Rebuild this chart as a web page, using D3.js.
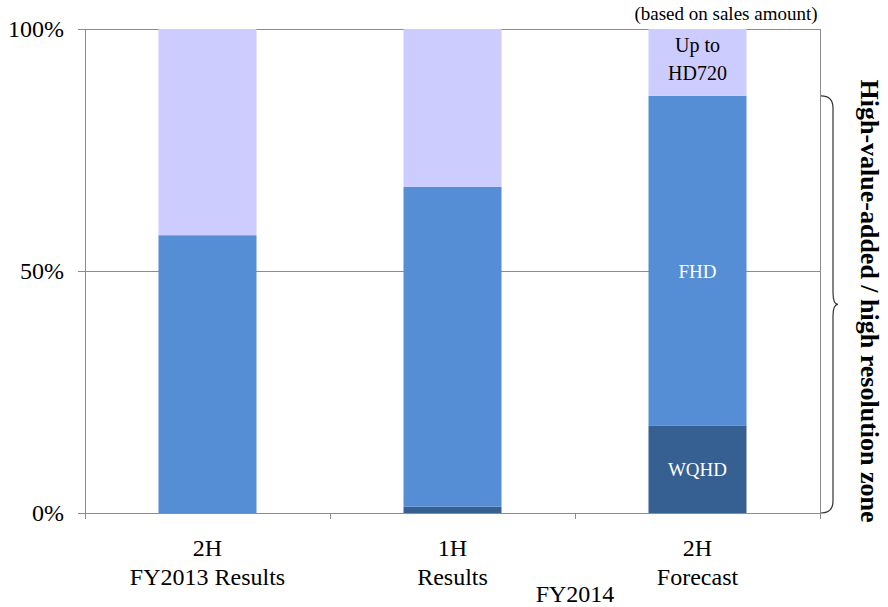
<!DOCTYPE html>
<html><head><meta charset="utf-8">
<script src="https://cdn.jsdelivr.net/npm/d3@7"></script>
<style>body{margin:0;background:#fff}svg{display:block}text{font-family:"Liberation Serif","Times New Roman",Times,serif}</style>
</head><body><svg id="c" width="888" height="607"></svg>
<script>
const categories = ["c1","c2","c3"];
const labelLine1 = ["2H","1H","2H"];
const labelLine2 = ["FY2013 Results","Results","Forecast"];
const series = ["WQHD","FHD","Up to HD720"];
const wqhd = [0, 1.3, 18.0];
const fhd = [57.4, 66.1, 68.2];
const hd720 = [42.6, 32.6, 13.8];
const yTicks = [0, 50, 100];
const colors = ["#366092","#558ED5","#CCCCFF"];

const svg = d3.select("#c");
const L = 85, R = 820, T = 29, B = 513;
const x = d3.scaleBand().domain(categories).range([L, R]).paddingInner(0.6).paddingOuter(0.3);
const y = d3.scaleLinear().domain([0,100]).range([B, T]);

const rows = categories.map((c,i)=>({cat:c, WQHD:wqhd[i], FHD:fhd[i], "Up to HD720":hd720[i]}));
const stacked = d3.stack().keys(series)(rows);

// gridlines
svg.append("g").selectAll("line").data(yTicks).join("line")
  .attr("x1", L-7).attr("x2", R).attr("y1", d=>y(d)).attr("y2", d=>y(d))
  .attr("stroke","#8c8c8c").attr("stroke-width",1).attr("shape-rendering","crispEdges");

// bars
svg.append("g").selectAll("g").data(stacked).join("g").attr("fill",(d,i)=>colors[i])
  .selectAll("rect").data(d=>d).join("rect")
  .attr("x", d=>x(d.data.cat)).attr("width", x.bandwidth())
  .attr("y", d=>y(d[1])).attr("height", d=>y(d[0])-y(d[1]));

// axes lines
const ax = svg.append("g").attr("stroke","#8c8c8c").attr("shape-rendering","crispEdges");
ax.append("line").attr("x1",L).attr("x2",L).attr("y1",T).attr("y2",B+6);
ax.append("line").attr("x1",R).attr("x2",R).attr("y1",T).attr("y2",B+6);
const step = x.step();
[1,2].forEach(k=>{
  const xx = L + k*step;
  ax.append("line").attr("x1",xx).attr("x2",xx).attr("y1",B).attr("y2",B+6);
});

// y labels
svg.append("g").selectAll("text").data(yTicks).join("text")
  .attr("x", 64).attr("y", d=>y(d)+8).attr("text-anchor","end")
  .attr("font-size",24).attr("fill","#000").text(d=>d+"%");

// x labels
const xl = svg.append("g").attr("text-anchor","middle").attr("font-size",24).attr("fill","#000");
xl.selectAll("text.l1").data(categories).join("text").attr("class","l1")
  .attr("x", d=>x(d)+x.bandwidth()/2).attr("y",556).text((d,i)=>labelLine1[i]);
xl.selectAll("text.l2").data(categories).join("text").attr("class","l2")
  .attr("x", d=>x(d)+x.bandwidth()/2).attr("y",585).text((d,i)=>labelLine2[i]);
xl.append("text").attr("x", L+2*step).attr("y",602).text("FY2014");

// in-bar labels for last bar
const lastCat = categories[2];
const cx = x(lastCat)+x.bandwidth()/2;
const s3 = stacked.map(s=>s[2]);
svg.append("text").attr("x",cx).attr("y",y((s3[0][0]+s3[0][1])/2)+7).attr("text-anchor","middle")
  .attr("font-size",19).attr("fill","#fff").text("WQHD");
svg.append("text").attr("x",cx).attr("y",y(50)+7).attr("text-anchor","middle")
  .attr("font-size",19).attr("fill","#fff").text("FHD");
const t3 = svg.append("text").attr("text-anchor","middle").attr("font-size",20).attr("fill","#000");
t3.append("tspan").attr("x",cx).attr("y",52).text("Up to");
t3.append("tspan").attr("x",cx).attr("y",80).text("HD720");

// note
svg.append("text").attr("x",726).attr("y",20).attr("text-anchor","middle").attr("font-size",19).text("(based on sales amount)");

// brace
const bt = y(wqhd[2]+fhd[2]), bb = y(0), bm = (bt+bb)/2;
const bx = R+1, bw = 12, r = 12;
const p = `M${bx},${bt} Q${bx+bw},${bt} ${bx+bw},${bt+r} L${bx+bw},${bm-r} Q${bx+bw},${bm} ${bx+bw+5},${bm} Q${bx+bw},${bm} ${bx+bw},${bm+r} L${bx+bw},${bb-r} Q${bx+bw},${bb} ${bx},${bb}`;
svg.append("path").attr("d",p).attr("fill","none").attr("stroke","#333").attr("stroke-width",1.2);

svg.append("text").attr("transform",`translate(861,301) rotate(90)`)
  .attr("text-anchor","middle").attr("font-size",26).attr("font-weight","bold")
  .text("High-value-added / high resolution zone");
</script></body></html>
